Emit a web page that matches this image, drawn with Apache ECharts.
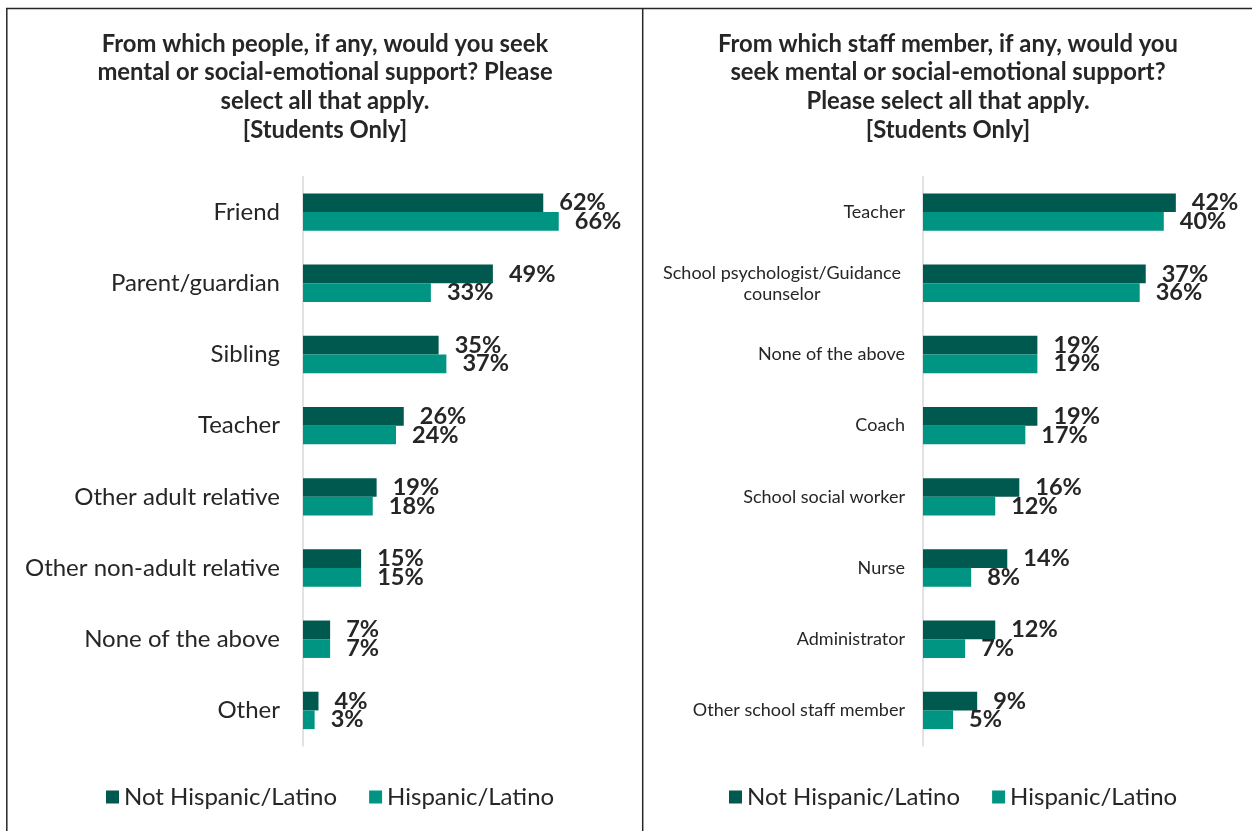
<!DOCTYPE html>
<html>
<head>
<meta charset="utf-8">
<script src="https://cdn.jsdelivr.net/npm/echarts@6/dist/echarts.min.js"></script>
<style>
  html, body { margin: 0; padding: 0; background: #ffffff; }
  #chart { width: 1252px; height: 831px; }
</style>
</head>
<body>
<div id="chart"></div>
<script>
// Survey responses by ethnicity (percent of students)
const seriesNames = ['Not Hispanic/Latino', 'Hispanic/Latino'];

const peopleCategories = ['Friend', 'Parent/guardian', 'Sibling', 'Teacher', 'Other adult relative',
  'Other non-adult relative', 'None of the above', 'Other'];
const peopleNotHispanic = [62, 49, 35, 26, 19, 15, 7, 4];
const peopleHispanic = [66, 33, 37, 24, 18, 15, 7, 3];

const staffCategories = ['Teacher', 'School psychologist/Guidance counselor', 'None of the above', 'Coach',
  'School social worker', 'Nurse', 'Administrator', 'Other school staff member'];
const staffNotHispanic = [42, 37, 19, 19, 16, 14, 12, 9];
const staffHispanic = [40, 36, 19, 17, 12, 8, 7, 5];

const peopleTitle = 'From which people, if any, would you seek\nmental or social-emotional support? Please\nselect all that apply.\n[Students Only]';
const staffTitle = 'From which staff member, if any, would you\nseek mental or social-emotional support?\nPlease select all that apply.\n[Students Only]';

const DARK = '#00594f';
const LIGHT = '#009483';
const TEXT = '#262626';
const FONT = 'Lato';

const chart = echarts.init(document.getElementById('chart'), null, { renderer: 'canvas' });

function barSeries(name, data, axisIndex, color) {
  return {
    type: 'bar',
    name: name,
    data: data,
    xAxisIndex: axisIndex,
    yAxisIndex: axisIndex,
    barWidth: 18.7,
    barGap: '0%',
    itemStyle: { color: color },
    label: {
      show: true,
      position: 'right',
      distance: 16,
      formatter: '{c}%',
      fontFamily: FONT,
      fontWeight: 'bold',
      fontSize: 23.5,
      color: TEXT
    },
    animation: false
  };
}

function categoryAxis(gridIndex, cats, fontSize, margin, formatter) {
  return {
    type: 'category',
    gridIndex: gridIndex,
    data: cats,
    inverse: true,
    axisLine: { show: true, lineStyle: { color: '#d9d9d9', width: 1.5 } },
    axisTick: { show: false },
    splitLine: { show: false },
    axisLabel: {
      fontFamily: FONT,
      fontSize: fontSize,
      color: TEXT,
      margin: margin,
      formatter: formatter,
      rich: {
        c: { fontFamily: FONT, fontSize: fontSize, color: TEXT, width: 246, align: 'center', lineHeight: 21 }
      }
    }
  };
}

function legendFor(left) {
  return {
    left: left,
    top: 780,
    data: seriesNames,
    icon: 'rect',
    itemWidth: 13,
    itemHeight: 13,
    itemGap: 32,
    selectedMode: false,
    textStyle: { fontFamily: FONT, fontSize: 24, color: TEXT }
  };
}

const option = {
  backgroundColor: '#ffffff',
  animation: false,
  grid: [
    { left: 303, top: 176.5, width: 387.5, height: 569.5 },
    { left: 923, top: 176.5, width: 301, height: 569.5 }
  ],
  xAxis: [
    { type: 'value', gridIndex: 0, min: 0, max: 100, show: false },
    { type: 'value', gridIndex: 1, min: 0, max: 50, show: false }
  ],
  yAxis: [
    categoryAxis(0, peopleCategories, 24, 23),
    categoryAxis(1, staffCategories, 18, 18, function (v) {
      if (v.indexOf('/Guidance ') > -1) {
        const parts = v.split('/Guidance ');
        return '{c|' + parts[0] + '/Guidance}\n{c|' + parts[1] + '}';
      }
      return v;
    })
  ],
  legend: [legendFor(101), legendFor(724)],
  series: [
    barSeries(seriesNames[0], peopleNotHispanic, 0, DARK),
    barSeries(seriesNames[1], peopleHispanic, 0, LIGHT),
    barSeries(seriesNames[0], staffNotHispanic, 1, DARK),
    barSeries(seriesNames[1], staffHispanic, 1, LIGHT)
  ],
  graphic: [
    // panel frame
    { type: 'line', shape: { x1: 6, y1: 8.5, x2: 1252, y2: 8.5 }, style: { stroke: TEXT, lineWidth: 1.5 }, silent: true },
    { type: 'line', shape: { x1: 6.8, y1: 8, x2: 6.8, y2: 831 }, style: { stroke: TEXT, lineWidth: 1.5 }, silent: true },
    { type: 'line', shape: { x1: 642.7, y1: 8, x2: 642.7, y2: 831 }, style: { stroke: TEXT, lineWidth: 1.5 }, silent: true },
    // panel titles
    {
      type: 'text', x: 325, y: 29.5, silent: true,
      style: { text: peopleTitle, font: 'bold 23.8px Lato', fill: TEXT, align: 'center', lineHeight: 28.7 }
    },
    {
      type: 'text', x: 948, y: 29.5, silent: true,
      style: { text: staffTitle, font: 'bold 23.8px Lato', fill: TEXT, align: 'center', lineHeight: 28.7 }
    }
  ]
};

chart.setOption(option);
</script>
</body>
</html>
